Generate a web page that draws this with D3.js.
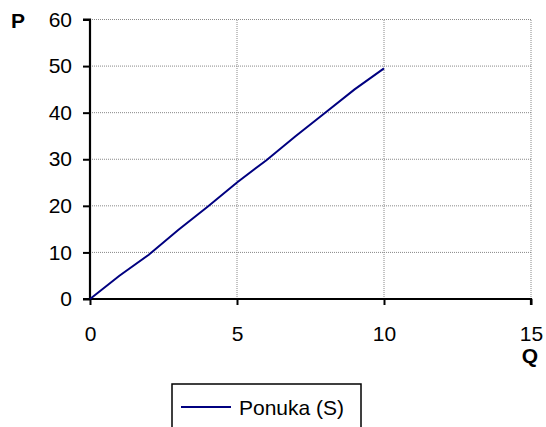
<!DOCTYPE html>
<html><head><meta charset="utf-8">
<script src="https://cdn.jsdelivr.net/npm/d3@7"></script>
<style>body{margin:0;background:#fff;} svg{display:block;font-family:"Liberation Sans",Arial,sans-serif;}</style>
</head><body>
<svg id="c" width="546" height="427"></svg>
<script>
const qValues = [0,1,2,3,4,5,6,7,8,9,10];
const pValues = [0,5,9.5,14.8,19.8,25,29.8,35,40,45,49.5];
const xTicks = [0,5,10,15];
const yTicks = [0,10,20,30,40,50,60];
const seriesName = "Ponuka (S)";

const svg = d3.select("#c");
const x = d3.scaleLinear().domain([0,15]).range([90,531]);
const y = d3.scaleLinear().domain([0,60]).range([299,19.5]);
const FS = "21px";

// grid
const g = svg.append("g");
g.selectAll(".hg").data(yTicks.filter(d=>d>0)).join("line")
  .attr("x1",x(0)).attr("x2",x(15)).attr("y1",d=>y(d)).attr("y2",d=>y(d))
  .attr("stroke","#888").attr("stroke-width",1).attr("stroke-dasharray","1,1");
g.selectAll(".vg").data(xTicks.filter(d=>d>0)).join("line")
  .attr("y1",y(0)).attr("y2",y(60)).attr("x1",d=>x(d)).attr("x2",d=>x(d))
  .attr("stroke","#888").attr("stroke-width",1).attr("stroke-dasharray","1,1");

// axes
const yAxis = d3.axisLeft(y).tickValues(yTicks).tickSize(7).tickPadding(11);
const ya = svg.append("g").attr("transform",`translate(${x(0)},0)`).call(yAxis);
const xAxis = d3.axisBottom(x).tickValues(xTicks).tickSize(6).tickPadding(21);
const xa = svg.append("g").attr("transform",`translate(0,${y(0)})`).call(xAxis);
[ya,xa].forEach(a=>{
  a.select(".domain").attr("stroke","#000").attr("stroke-width",2.2);
  a.selectAll(".tick line").attr("stroke","#000").attr("stroke-width",2);
  a.selectAll(".tick text").attr("fill","#000").style("font-size",FS).style("font-family","Liberation Sans, Arial, sans-serif");
});
ya.select(".domain").attr("d",`M-7,${y(60)}H0V${y(0)}`);
xa.select(".domain").attr("d",`M${x(0)-7},0H${x(15)}V6`);

// line
svg.append("path").datum(qValues.map((q,i)=>[q,pValues[i]]))
  .attr("fill","none").attr("stroke","#000080").attr("stroke-width",2)
  .attr("d",d3.line().x(d=>x(d[0])).y(d=>y(d[1])));

// axis labels
svg.append("text").attr("x",18).attr("y",28).attr("text-anchor","middle")
  .style("font-size",FS).style("font-weight","bold").text("P");
svg.append("text").attr("x",530).attr("y",363).attr("text-anchor","middle")
  .style("font-size",FS).style("font-weight","bold").text("Q");

// legend
svg.append("rect").attr("x",172).attr("y",384).attr("width",189).attr("height",60)
  .attr("fill","#fff").attr("stroke","#000").attr("stroke-width",1.5);
svg.append("line").attr("x1",181).attr("x2",231).attr("y1",407).attr("y2",407)
  .attr("stroke","#000080").attr("stroke-width",2);
svg.append("text").attr("x",239).attr("y",415).style("font-size",FS).text(seriesName);
</script>
</body></html>
